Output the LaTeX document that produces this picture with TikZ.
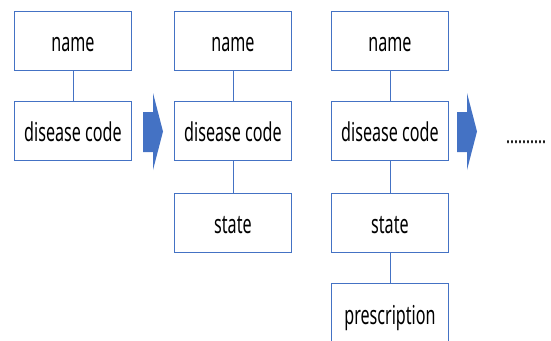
\documentclass[tikz,border=0pt]{standalone}
\usepackage{fontspec}
\setmainfont{Noto Sans}[FakeStretch=0.62]
\definecolor{boxblue}{HTML}{4472C4}
\begin{document}
\begin{tikzpicture}[x=1pt,y=-1pt,
  field/.style={draw=boxblue, line width=0.9pt, fill=white, minimum width=117pt, minimum height=59pt, inner sep=0pt, text height=22pt, text depth=0pt, anchor=north west, font=\fontsize{26}{28}\selectfont, text=black},
  link/.style={draw=boxblue, line width=0.9pt},
  bigarrow/.style={fill=boxblue, draw=none}]
\useasboundingbox (0,0) rectangle (551,340);
% column 1
\node[field] (n1) at (14,10.5) {name};
\node[field] (d1) at (14,100.5) {disease code};
% column 2
\node[field] (n2) at (174,10.5) {name};
\node[field] (d2) at (174,100.5) {disease code};
\node[field] (s2) at (174,192.5) {state};
% column 3
\node[field] (n3) at (331,10.5) {name};
\node[field] (d3) at (331,100.5) {disease code};
\node[field] (s3) at (331,192.5) {state};
\node[field, minimum height=60pt] (p3) at (331,283) {prescription};
% connectors
\draw[link] (n1) -- (d1);
\draw[link] (n2) -- (d2);
\draw[link] (d2) -- (s2);
\draw[link] (n3) -- (d3);
\draw[link] (d3) -- (s3);
\draw[link] (s3) -- (p3);
% block arrows
\path[bigarrow] (143,112) -- (153,112) -- (153,93) -- (163,131.5) -- (153,170) -- (153,152) -- (143,152) -- cycle;
\path[bigarrow] (457,112) -- (467,112) -- (467,93) -- (477,131.5) -- (467,170) -- (467,152) -- (457,152) -- cycle;
% continuation
\node[anchor=base west, inner sep=0pt, font=\fontsize{24}{26}\selectfont, text=black] (more) at (506,143.5) {..........};
\end{tikzpicture}
\end{document}
